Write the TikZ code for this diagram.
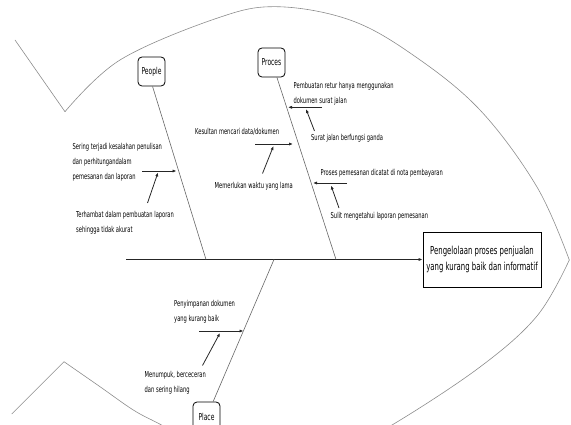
\documentclass[tikz,border=0pt]{standalone}
\usepackage{fontspec}
\newfontfamily\fishfont[FakeStretch=0.63]{DejaVu Sans}
\usetikzlibrary{arrows.meta}

\begin{document}
\begin{tikzpicture}[
        x=1pt, y=-1pt,
        outline/.style={draw=black!45, line width=0.6pt},
        bone/.style={draw=black!60, line width=0.6pt},
        arr/.style={-{Latex[length=4pt, width=3.2pt]}, line width=0.8pt, draw=black!85},
        cat/.style={draw, rounded corners=4pt, line width=0.8pt, inner sep=0pt,
                    minimum width=27pt, minimum height=29pt,
                    font=\fishfont\fontsize{9.5}{11}\selectfont},
        cause/.style={anchor=west, align=left, inner sep=0pt,
                      font=\fishfont\fontsize{8.2}{15}\selectfont},
        effect/.style={draw, line width=0.8pt, align=center,
                       minimum width=118pt, minimum height=55pt,
                       font=\fishfont\fontsize{11}{16.7}\selectfont}
    ]
    \clip (0,0) rectangle (571,425);

    % fish outline
    \draw[outline] (15,40) -- (65,111.7);
    \draw[outline] plot[smooth, tension=0.6] coordinates {(65,111.7) (120,60) (216.7,18.3) (276.7,6.7) (350,20) (413,55) (480,110) (537,187) (569.3,260)};
    \draw[outline] plot[smooth, tension=0.6] coordinates {(569.3,260) (537,316) (480,367) (392,425) (340,450)};
    \draw[outline] (11.7,414) -- (64,361.7);
    \draw[outline] plot[smooth, tension=0.6] coordinates {(64,361.7) (100,386.7) (133.3,410) (158.3,423.3) (200,445)};

    % head and categories
    \node[effect] (effect) at (482,259.5) {Pengelolaan proses penjualan\\yang kurang baik dan informatif};
    \node[cat] (people) at (151.5,71.5)  {People};
    \node[cat] (proces) at (271.5,62.5)  {Proces};
    \node[cat] (place)  at (206.5,416.5) {Place};

    % spine and bones
    \coordinate (tail)       at (126,259.5);
    \coordinate (peoplebase) at (206,259.5);
    \coordinate (procesbase) at (336,259.5);
    \coordinate (placebase)  at (274,259.5);
    \draw[arr, line width=0.9pt] (tail) -- (effect);
    \draw[bone] (people.-86) -- (peoplebase);
    \draw[bone] (proces.-70) -- (procesbase);
    \draw[bone] (place.66)   -- (placebase);

    % People
    \node[cause] (sering)    at (72.5,162.5) {Sering terjadi kesalahan penulisan\\dan perhitungandalam\\pemesanan dan laporan};
    \node[cause] (terhambat) at (76,223)     {Terhambat dalam pembuatan laporan\\sehingga tidak akurat};
    \coordinate (sering0)    at (142,171);
    \coordinate (sering1)    at (176.5,171);
    \coordinate (terhambat0) at (147.5,203);
    \coordinate (terhambat1) at (158,172.5);
    \draw[arr] (sering0)    -- (sering1);
    \draw[arr] (terhambat0) -- (terhambat1);

    % Proces
    \node[cause] (retur)      at (293.5,93.5) {Pembuatan retur hanya menggunakan\\dokumen surat jalan};
    \node[cause] (surat)      at (311,138)    {Surat jalan berfungsi ganda};
    \node[cause] (kesultan)   at (195,131.5)  {Kesultan mencari data/dokumen};
    \node[cause] (memerlukan) at (214.5,186)  {Memerlukan waktu yang lama};
    \node[cause] (nota)       at (320.5,173.5) {Proses pemesanan dicatat di nota pembayaran};
    \node[cause] (sulit)      at (330.5,216)  {Sulit mengetahui laporan pemesanan};
    \coordinate (retur0)      at (322,107.3);
    \coordinate (retur1)      at (288,107.3);
    \coordinate (surat0)      at (314.5,131);
    \coordinate (surat1)      at (306,109);
    \coordinate (kesultan0)   at (255,144);
    \coordinate (kesultan1)   at (293,144);
    \coordinate (memerlukan0) at (262.5,173.5);
    \coordinate (memerlukan1) at (273.5,146);
    \coordinate (nota0)       at (347,183);
    \coordinate (nota1)       at (313,183);
    \coordinate (sulit0)      at (339,208);
    \coordinate (sulit1)      at (331,185.5);
    \draw[arr] (retur0)      -- (retur1);
    \draw[arr] (surat0)      -- (surat1);
    \draw[arr] (kesultan0)   -- (kesultan1);
    \draw[arr] (memerlukan0) -- (memerlukan1);
    \draw[arr] (nota0)       -- (nota1);
    \draw[arr] (sulit0)      -- (sulit1);

    % Place
    \node[cause] (simpan)   at (174,312)   {Penyimpanan dokumen\\yang kurang baik};
    \node[cause] (menumpuk) at (144.5,383) {Menumpuk, berceceran\\dan sering hilang};
    \coordinate (simpan0)   at (199,331);
    \coordinate (simpan1)   at (243.5,331);
    \coordinate (menumpuk0) at (202.5,365.5);
    \coordinate (menumpuk1) at (220,333);
    \draw[arr] (simpan0)   -- (simpan1);
    \draw[arr] (menumpuk0) -- (menumpuk1);
\end{tikzpicture}
\end{document}
